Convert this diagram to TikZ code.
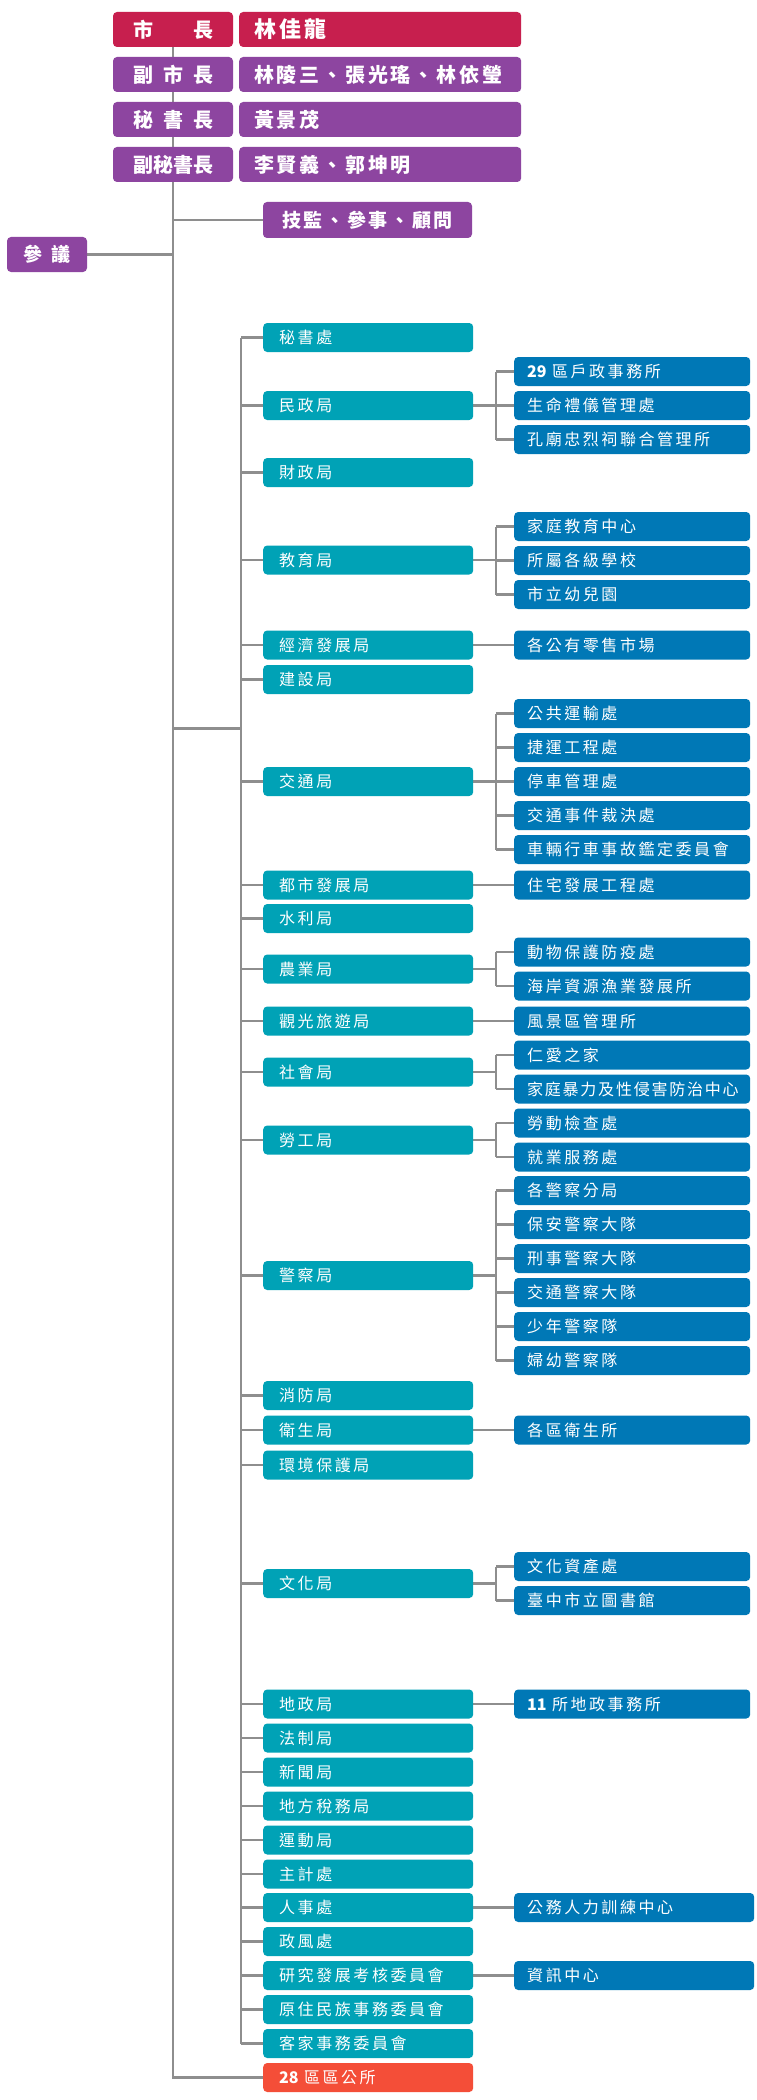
\documentclass[tikz,border=0pt]{standalone}
\usepackage{fontspec}
\setmainfont{Noto Sans CJK TC}
\newfontfamily\orgfont{Noto Sans CJK TC}[LetterSpace=16]
\newfontfamily\tightfont{Noto Sans CJK TC}[LetterSpace=11]
\newfontfamily\headfont{Noto Sans CJK TC}[LetterSpace=14]
\newfontfamily\digitfont{Noto Sans CJK TC}
\usetikzlibrary{positioning,backgrounds}
\definecolor{mayorred}{HTML}{C71F4E}
\definecolor{cabinet}{HTML}{8D45A0}
\definecolor{bureau}{HTML}{00A2B6}
\definecolor{office}{HTML}{0078B6}
\definecolor{districtred}{HTML}{F44E38}
\definecolor{wire}{HTML}{8E8E8E}
\newcommand{\num}[1]{{\digitfont\bfseries #1}}

\begin{document}
\begin{tikzpicture}[
  x=1pt, y=-1pt,
  rankbox/.style={fill=cabinet, text=white, rounded corners=4pt,
                  minimum width=120pt, minimum height=35pt, inner sep=0pt,
                  font=\fontsize{20}{24}\selectfont\bfseries},
  namebox/.style={fill=cabinet, text=white, rounded corners=4pt, anchor=west,
                  text width=252pt, inner xsep=15pt, inner ysep=0pt,
                  minimum height=35pt, align=left,
                  font=\headfont\fontsize{20}{24}\selectfont\bfseries},
  deptbox/.style={fill=bureau, text=white, rounded corners=4pt, anchor=west,
                  text width=178pt, inner xsep=16pt, inner ysep=0pt,
                  minimum height=29pt, align=left,
                  font=\orgfont\fontsize{16}{19}\selectfont},
  subbox/.style={fill=office, text=white, rounded corners=4pt, anchor=west,
                 text width=210pt, inner xsep=13pt, inner ysep=0pt,
                 minimum height=29pt, align=left,
                 font=\orgfont\fontsize{16}{19}\selectfont},
  subwide/.style={subbox, text width=214pt},
  link/.style={draw=wire, line width=2.6pt},
]
\useasboundingbox (0,0) rectangle (756,2100);

% mayor and cabinet
\node[rankbox, fill=mayorred] (mayor) at (173,29.5) {\hbox to 80pt{市\hfil 長}};
\node[namebox, fill=mayorred, font=\headfont\fontsize{22}{26}\selectfont\bfseries]
  (mayorname) at (239,29.5) {林佳龍};
\node[rankbox] (vmayor) at (173,74.5) {\hbox to 80pt{副\hfil 市\hfil 長}};
\node[namebox] (vmayorname) at (239,74.5) {林陵三、張光瑤、林依瑩};
\node[rankbox] (secgen) at (173,119.5) {\hbox to 80pt{秘\hfil 書\hfil 長}};
\node[namebox] (secgenname) at (239,119.5) {黃景茂};
\node[rankbox] (dsecgen) at (173,164.5) {\hbox to 80pt{副\hfil 秘\hfil 書\hfil 長}};
\node[namebox] (dsecgenname) at (239,164.5) {李賢義、郭坤明};

\node[rankbox, minimum width=209pt, minimum height=36pt,
      font=\headfont\fontsize{19}{23}\selectfont\bfseries]
  (advisors) at (367.5,220) {技監、參事、顧問};
\node[rankbox, minimum width=80pt, font=\fontsize{19}{23}\selectfont\bfseries]
  (council) at (47,254.5) {\hbox to 47pt{參\hfil 議}};

% bureaus
\foreach \id/\y/\txt in {sec/337.5/秘書處, civil/405.5/民政局, fin/472.5/財政局,
    edu/560/教育局, econ/645/經濟發展局, cons/679.5/建設局, trans/781.5/交通局,
    urban/885/都市發展局, water/918.5/水利局, agri/969/農業局,
    tour/1021/觀光旅遊局, social/1072/社會局, labor/1140/勞工局,
    police/1275.5/警察局, fire/1395.5/消防局, health/1430/衛生局,
    env/1465/環境保護局, culture/1583.5/文化局, land/1704/地政局,
    legal/1738/法制局, news/1772/新聞局, tax/1806/地方稅務局,
    sport/1840/運動局, budget/1874/主計處, pers/1907.5/人事處,
    ethics/1941.5/政風處, rdec/1975.5/研究發展考核委員會,
    indig/2009.5/原住民族事務委員會, hakka/2043.5/客家事務委員會}
  \node[deptbox] (\id) at (263,\y) {\txt};

\node[deptbox, fill=districtred] (district) at (263,2077.5) {\num{28} 區區公所};

% subordinate units
\foreach \id/\y/\txt in {civil1/371.5/{\num{29} 區戶政事務所},
    civil2/405.5/生命禮儀管理處, civil3/439.5/孔廟忠烈祠聯合管理所,
    edu1/526.5/家庭教育中心, edu2/560.5/所屬各級學校, edu3/594.5/市立幼兒園,
    econ1/645/各公有零售市場,
    trans1/713.5/公共運輸處, trans2/747.5/捷運工程處, trans3/781.5/停車管理處,
    trans4/815.5/交通事件裁決處, trans5/849.5/車輛行車事故鑑定委員會,
    urban1/885/住宅發展工程處,
    agri1/952/動物保護防疫處, agri2/986/海岸資源漁業發展所,
    tour1/1021/風景區管理所,
    social1/1055/仁愛之家, social2/1089/{\tightfont 家庭暴力及性侵害防治中心},
    labor1/1123/勞動檢查處, labor2/1157/就業服務處,
    police1/1190.5/各警察分局, police2/1224.5/保安警察大隊,
    police3/1258.5/刑事警察大隊, police4/1292.5/交通警察大隊,
    police5/1326.5/少年警察隊, police6/1360.5/婦幼警察隊,
    health1/1430/各區衛生所,
    culture1/1566.5/文化資產處, culture2/1600.5/臺中市立圖書館,
    land1/1704/{\num{11} 所地政事務所}}
  \node[subbox] (\id) at (514,\y) {\txt};

\node[subwide] (pers1) at (514,1907.5) {公務人力訓練中心};
\node[subwide] (rdec1) at (514,1975.5) {資訊中心};

\begin{scope}[on background layer]
\fill[white] (0,0) rectangle (756,2100);

\foreach \a/\b in {mayor/vmayor, vmayor/secgen, secgen/dsecgen}
  \draw[link] (\a) -- (\b);
\draw[link] (dsecgen.south) |- (district.west);
\draw[link] (advisors.west) -- (advisors.west -| mayor.south);
\draw[link] (council.east) -- (council.east -| mayor.south);

\coordinate (spine) at (241,728.3);
\draw[link] (spine -| mayor.south) -- (spine);
\draw[link] (sec.west -| spine) -- (hakka.west -| spine);
\foreach \d in {sec, civil, fin, edu, econ, cons, trans, urban, water, agri,
                tour, social, labor, police, fire, health, env, culture, land,
                legal, news, tax, sport, budget, pers, ethics, rdec, indig, hakka}
  \draw[link] (\d.west) -- (\d.west -| spine);

\foreach \a/\b in {econ/econ1, urban/urban1, tour/tour1, health/health1,
                   land/land1, pers/pers1, rdec/rdec1}
  \draw[link] (\a) -- (\b);

\coordinate (fork) at (496,0);
\foreach \d/\n in {civil/3, edu/3, trans/5, agri/2, social/2, labor/2,
                   police/6, culture/2} {
  \draw[link] (\d.east) -- (\d.east -| fork);
  \draw[link] (\d1.west -| fork) -- (\d\n.west -| fork);
  \foreach \k in {1,...,\n}
    \draw[link] (\d\k.west) -- (\d\k.west -| fork);
}
\end{scope}

\end{tikzpicture}
\end{document}
